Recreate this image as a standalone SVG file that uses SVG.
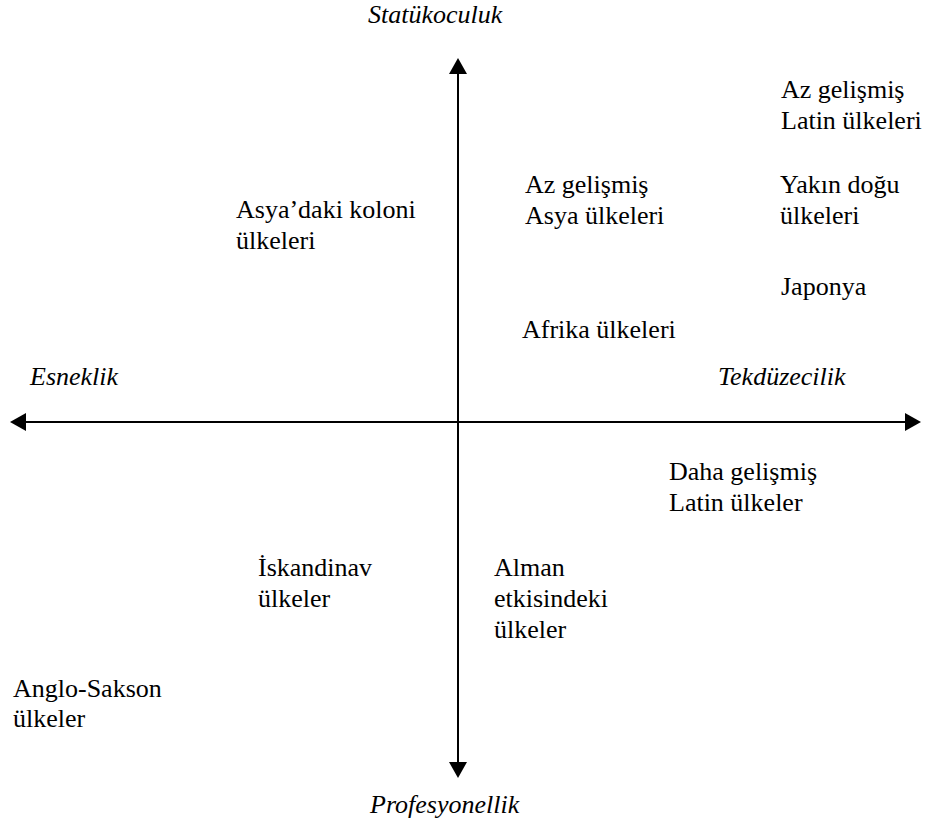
<svg xmlns="http://www.w3.org/2000/svg" width="929" height="828" viewBox="0 0 929 828">
  <rect width="929" height="828" fill="#fff"/>

  <!-- axes with solid arrowheads -->
  <g id="connectors">
    <line x1="458" y1="74" x2="458" y2="762" stroke="#000" stroke-width="2"/>
    <line x1="26" y1="422" x2="905" y2="422" stroke="#000" stroke-width="2"/>
    <polygon points="458,58 449,74 467,74" fill="#000"/>
    <polygon points="458,778 449,762 467,762" fill="#000"/>
    <polygon points="10,422 26,413 26,431" fill="#000"/>
    <polygon points="921,422 905,413 905,431" fill="#000"/>
  </g>

  <!-- axis labels -->
  <g id="label-statukoculuk"><text x="368" y="23" font-family="Liberation Serif" font-size="26" font-style="italic">Statükoculuk</text></g>
  <g id="label-profesyonellik"><text x="370" y="813" font-family="Liberation Serif" font-size="26" font-style="italic">Profesyonellik</text></g>
  <g id="label-esneklik"><text x="30" y="385" font-family="Liberation Serif" font-size="26" font-style="italic">Esneklik</text></g>
  <g id="label-tekduzecilik"><text x="718" y="385" font-family="Liberation Serif" font-size="26" font-style="italic">Tekdüzecilik</text></g>

  <!-- country groups -->
  <g id="az-gelismis-latin">
    <text x="781" y="98" font-family="Liberation Serif" font-size="26">Az gelişmiş</text>
    <text x="781" y="129" font-family="Liberation Serif" font-size="26">Latin ülkeleri</text>
  </g>
  <g id="az-gelismis-asya">
    <text x="525" y="193" font-family="Liberation Serif" font-size="26">Az gelişmiş</text>
    <text x="525" y="224" font-family="Liberation Serif" font-size="26">Asya ülkeleri</text>
  </g>
  <g id="yakin-dogu">
    <text x="780" y="193" font-family="Liberation Serif" font-size="26">Yakın doğu</text>
    <text x="780" y="224" font-family="Liberation Serif" font-size="26">ülkeleri</text>
  </g>
  <g id="asya-koloni">
    <text x="236" y="218" font-family="Liberation Serif" font-size="26">Asya’daki koloni</text>
    <text x="236" y="249" font-family="Liberation Serif" font-size="26">ülkeleri</text>
  </g>
  <g id="japonya">
    <text x="781" y="295" font-family="Liberation Serif" font-size="26">Japonya</text>
  </g>
  <g id="afrika">
    <text x="522" y="338" font-family="Liberation Serif" font-size="26">Afrika ülkeleri</text>
  </g>
  <g id="daha-gelismis-latin">
    <text x="669" y="480" font-family="Liberation Serif" font-size="26">Daha gelişmiş</text>
    <text x="669" y="511" font-family="Liberation Serif" font-size="26">Latin ülkeler</text>
  </g>
  <g id="iskandinav">
    <text x="258" y="576" font-family="Liberation Serif" font-size="26">İskandinav</text>
    <text x="258" y="607" font-family="Liberation Serif" font-size="26">ülkeler</text>
  </g>
  <g id="alman">
    <text x="494" y="576" font-family="Liberation Serif" font-size="26">Alman</text>
    <text x="494" y="607" font-family="Liberation Serif" font-size="26">etkisindeki</text>
    <text x="494" y="638" font-family="Liberation Serif" font-size="26">ülkeler</text>
  </g>
  <g id="anglo-sakson">
    <text x="13" y="697" font-family="Liberation Serif" font-size="26">Anglo-Sakson</text>
    <text x="13" y="727" font-family="Liberation Serif" font-size="26">ülkeler</text>
  </g>
</svg>
